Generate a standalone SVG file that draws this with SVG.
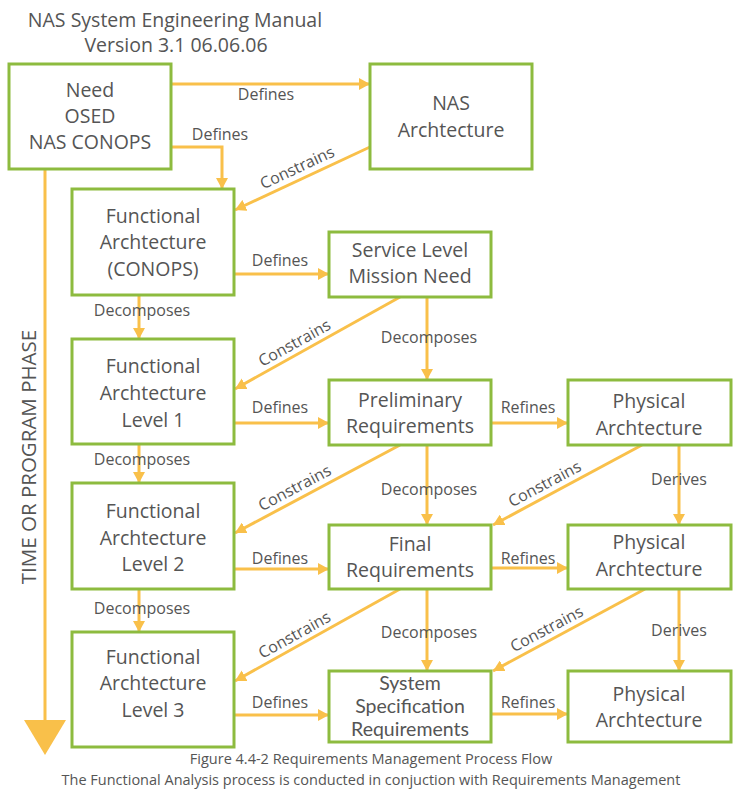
<svg xmlns="http://www.w3.org/2000/svg" width="739" height="789" viewBox="0 0 739 789">
<style>
text{font-family:"Open Sans","Liberation Sans",sans-serif;fill:#555;}
.box{fill:#fff;stroke:#8dbb3f;stroke-width:3;}
.t{font-size:19.5px;text-anchor:middle;}
.tt{font-family:Lato,"Open Sans",sans-serif;font-size:19.5px;text-anchor:middle;}
.c{fill:none;stroke:#f9c04a;stroke-width:3;}
.a{marker-end:url(#ah);}
.l{font-size:16px;text-anchor:middle;}
.title{font-size:19.5px;text-anchor:middle;}
.cap{font-size:14.5px;text-anchor:middle;}
</style>
<defs>
<marker id="ah" markerUnits="userSpaceOnUse" markerWidth="12" markerHeight="12" refX="11" refY="6" orient="auto">
<path d="M0,0 L11,6 L0,12 z" fill="#f9c04a"/>
</marker>
</defs>
<rect width="739" height="789" fill="#fff"/>
<text class="title" x="175" y="27">NAS System Engineering Manual</text>
<text class="title" x="176" y="52">Version 3.1 06.06.06</text>

<g id="connectors">
<path class="c a" d="M171,84 H370"/>
<text class="l" x="266" y="100">Defines</text>
<path class="c a" d="M171,147 H222 V189"/>
<text class="l" x="220" y="140">Defines</text>
<path class="c a" d="M370,147 L235,210"/>
<text class="l" transform="translate(302,178) rotate(-25)" y="-6">Constrains</text>

<path class="c" d="M45,169 V722"/>
<polygon points="24,720 66,720 45,755" fill="#f9c04a"/>
<text transform="translate(36,457) rotate(-90)" style="font-size:20.5px;text-anchor:middle">TIME OR PROGRAM PHASE</text>

<path class="c a" d="M234,274 H329"/>
<text class="l" x="280" y="266">Defines</text>
<path class="c a" d="M139,295 V339"/>
<text class="l" x="142" y="316">Decomposes</text>
<path class="c a" d="M400,297 L235,389"/>
<text class="l" transform="translate(300,353) rotate(-29)" y="-6">Constrains</text>
<path class="c a" d="M427,297 V380"/>
<text class="l" x="429" y="343">Decomposes</text>

<path class="c a" d="M234,423 H329"/>
<text class="l" x="280" y="413">Defines</text>
<path class="c a" d="M139,444 V483"/>
<text class="l" x="142" y="465">Decomposes</text>
<path class="c a" d="M400,445 L235,533"/>
<text class="l" transform="translate(300,498) rotate(-28)" y="-6">Constrains</text>
<path class="c a" d="M427,445 V525"/>
<text class="l" x="429" y="495">Decomposes</text>
<path class="c a" d="M491,423 H568"/>
<text class="l" x="528" y="413">Refines</text>
<path class="c a" d="M642,445 L493,525"/>
<text class="l" transform="translate(550,494) rotate(-28)" y="-6">Constrains</text>
<path class="c a" d="M679,445 V525"/>
<text class="l" x="679" y="485">Derives</text>

<path class="c a" d="M234,569 H329"/>
<text class="l" x="280" y="564">Defines</text>
<path class="c a" d="M139,589 V632"/>
<text class="l" x="142" y="614">Decomposes</text>
<path class="c a" d="M400,589 L235,681"/>
<text class="l" transform="translate(300,645) rotate(-29)" y="-6">Constrains</text>
<path class="c a" d="M427,589 V671"/>
<text class="l" x="429" y="638">Decomposes</text>
<path class="c a" d="M491,568 H568"/>
<text class="l" x="528" y="564">Refines</text>
<path class="c a" d="M645,589 L493,671"/>
<text class="l" transform="translate(552,639) rotate(-28)" y="-6">Constrains</text>
<path class="c a" d="M679,589 V671"/>
<text class="l" x="679" y="636">Derives</text>

<path class="c a" d="M234,715 H329"/>
<text class="l" x="280" y="708">Defines</text>
<path class="c a" d="M491,714 H568"/>
<text class="l" x="528" y="708">Refines</text>
</g>

<g id="need">
<rect class="box" x="9" y="64" width="162" height="105"/>
<text class="t" x="90" y="97">Need</text>
<text class="t" x="90" y="123">OSED</text>
<text class="t" x="90" y="149">NAS CONOPS</text>
</g>
<g id="nas-arch">
<rect class="box" x="370" y="64" width="162" height="105"/>
<text class="t" x="451" y="110">NAS</text>
<text class="t" x="451" y="137">Archtecture</text>
</g>
<g id="func-conops">
<rect class="box" x="72" y="189" width="162" height="106"/>
<text class="t" x="153" y="223">Functional</text>
<text class="t" x="153" y="249">Archtecture</text>
<text class="t" x="153" y="276">(CONOPS)</text>
</g>
<g id="service-level">
<rect class="box" x="329" y="232" width="162" height="65"/>
<text class="t" x="410" y="257">Service Level</text>
<text class="t" x="410" y="283">Mission Need</text>
</g>
<g id="func-l1">
<rect class="box" x="72" y="339" width="162" height="105"/>
<text class="t" x="153" y="373">Functional</text>
<text class="t" x="153" y="400">Archtecture</text>
<text class="t" x="153" y="427">Level 1</text>
</g>
<g id="prelim-req">
<rect class="box" x="329" y="380" width="162" height="65"/>
<text class="t" x="410" y="407">Preliminary</text>
<text class="t" x="410" y="433">Requirements</text>
</g>
<g id="phys-1">
<rect class="box" x="568" y="380" width="163" height="65"/>
<text class="t" x="649" y="408">Physical</text>
<text class="t" x="649" y="435">Archtecture</text>
</g>
<g id="func-l2">
<rect class="box" x="72" y="483" width="162" height="106"/>
<text class="t" x="153" y="518">Functional</text>
<text class="t" x="153" y="545">Archtecture</text>
<text class="t" x="153" y="571">Level 2</text>
</g>
<g id="final-req">
<rect class="box" x="329" y="525" width="162" height="64"/>
<text class="t" x="410" y="551">Final</text>
<text class="t" x="410" y="577">Requirements</text>
</g>
<g id="phys-2">
<rect class="box" x="568" y="525" width="163" height="64"/>
<text class="t" x="649" y="549">Physical</text>
<text class="t" x="649" y="576">Archtecture</text>
</g>
<g id="func-l3">
<rect class="box" x="72" y="632" width="162" height="115"/>
<text class="t" x="153" y="664">Functional</text>
<text class="t" x="153" y="690">Archtecture</text>
<text class="t" x="153" y="717">Level 3</text>
</g>
<g id="sys-spec">
<rect class="box" x="329" y="671" width="162" height="71"/>
<text class="tt" x="410" y="690">System</text>
<text class="tt" x="410" y="713">Specification</text>
<text class="tt" x="410" y="736">Requirements</text>
</g>
<g id="phys-3">
<rect class="box" x="568" y="671" width="163" height="71"/>
<text class="t" x="649" y="701">Physical</text>
<text class="t" x="649" y="727">Archtecture</text>
</g>

<text class="cap" x="371" y="764">Figure 4.4-2 Requirements Management Process Flow</text>
<text class="cap" x="371" y="785">The Functional Analysis process is conducted in conjuction with Requirements Management</text>
</svg>
